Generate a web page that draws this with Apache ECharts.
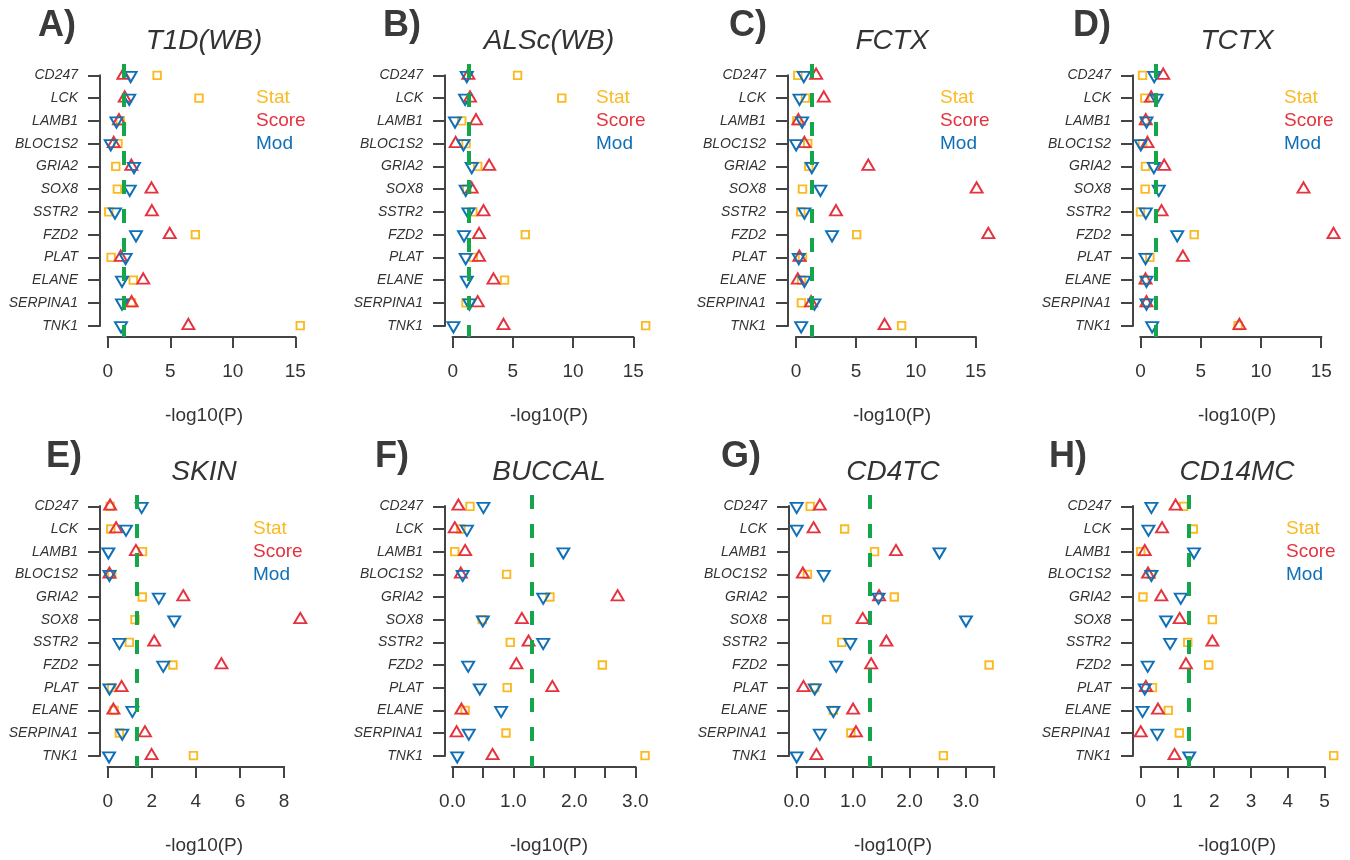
<!DOCTYPE html>
<html>
<head>
<meta charset="utf-8">
<title>-log10(P) by gene</title>
<script src="https://cdn.jsdelivr.net/npm/echarts@6/dist/echarts.min.js"></script>
<style>
html, body {
	margin: 0;
	padding: 0;
	background: #fff;
}
#main {
	width: 1350px;
	height: 860px;
}
</style>
</head>
<body>
<div id="main"></div>
<script type="text/javascript">

    // genes, top to bottom
    var genes = ['CD247', 'LCK', 'LAMB1', 'BLOC1S2', 'GRIA2', 'SOX8', 'SSTR2', 'FZD2', 'PLAT', 'ELANE', 'SERPINA1', 'TNK1'];

    var panelLetters = ['A)', 'B)', 'C)', 'D)', 'E)', 'F)', 'G)', 'H)'];
    var panelNames = ['T1D(WB)', 'ALSc(WB)', 'FCTX', 'TCTX', 'SKIN', 'BUCCAL', 'CD4TC', 'CD14MC'];
    var seriesNames = ['Stat', 'Score', 'Mod'];
    var cutoff = 1.3;   // -log10(0.05)

    // -log10(P) values, one array per panel and test
    var t1dStat   = [3.95, 7.30, 1.00, 0.82, 0.64, 0.77, 0.08, 7.01, 0.27, 2.04, 1.90, 15.40];
    var t1dScore  = [1.25, 1.36, 0.90, 0.48, 1.89, 3.50, 3.53, 4.96, 1.04, 2.84, 1.91, 6.45];
    var t1dMod    = [1.83, 1.72, 0.70, 0.24, 2.10, 1.76, 0.58, 2.26, 1.43, 1.14, 1.14, 1.06];

    var alsStat   = [5.39, 9.06, 0.75, 1.11, 2.08, 1.17, 1.67, 6.03, 1.72, 4.31, 1.11, 16.03];
    var alsScore  = [1.30, 1.44, 1.94, 0.25, 3.03, 1.58, 2.56, 2.19, 2.19, 3.39, 2.08, 4.22];
    var alsMod    = [1.17, 1.03, 0.19, 0.89, 1.58, 1.08, 1.31, 0.94, 1.08, 1.17, 1.39, 0.06];

    var fctxStat  = [0.14, 0.78, 0.06, 0.97, 1.06, 0.53, 0.39, 5.06, 0.53, 0.45, 0.44, 8.81];
    var fctxScore = [1.67, 2.31, 0.19, 0.69, 6.03, 15.08, 3.33, 16.06, 0.28, 0.14, 1.25, 7.39];
    var fctxMod   = [0.64, 0.28, 0.50, 0.00, 1.31, 2.03, 0.69, 3.00, 0.22, 0.69, 1.53, 0.42];

    var tctxStat  = [0.17, 0.36, 0.36, 0.17, 0.42, 0.39, 0.00, 4.46, 0.78, 0.36, 0.44, 8.10];
    var tctxScore = [1.89, 0.89, 0.44, 0.58, 1.97, 13.53, 1.75, 16.02, 3.52, 0.42, 0.50, 8.21];
    var tctxMod   = [1.14, 1.33, 0.50, 0.03, 1.11, 1.52, 0.44, 3.05, 0.42, 0.50, 0.50, 0.97];

    var skinStat  = [0.11, 0.14, 1.58, 0.18, 1.57, 1.24, 0.98, 2.96, 0.18, 0.29, 0.53, 3.89];
    var skinScore = [0.11, 0.38, 1.28, 0.08, 3.43, 8.74, 2.11, 5.16, 0.63, 0.26, 1.69, 1.99];
    var skinMod   = [1.54, 0.83, 0.03, 0.08, 2.32, 3.02, 0.53, 2.52, 0.08, 1.12, 0.66, 0.06];

    var buccStat  = [0.29, 0.14, 0.04, 0.89, 1.60, 0.49, 0.95, 2.46, 0.90, 0.21, 0.88, 3.16];
    var buccScore = [0.10, 0.04, 0.21, 0.14, 2.71, 1.14, 1.25, 1.05, 1.64, 0.15, 0.07, 0.66];
    var buccMod   = [0.51, 0.24, 1.82, 0.17, 1.49, 0.50, 1.49, 0.26, 0.45, 0.80, 0.27, 0.08];

    var cd4Stat   = [0.24, 0.85, 1.38, 0.19, 1.73, 0.53, 0.80, 3.41, 0.32, 0.65, 0.96, 2.60];
    var cd4Score  = [0.41, 0.30, 1.76, 0.11, 1.46, 1.17, 1.59, 1.32, 0.12, 1.00, 1.05, 0.35];
    var cd4Mod    = [0.00, 0.00, 2.53, 0.48, 1.45, 3.00, 0.95, 0.70, 0.32, 0.65, 0.41, 0.00];

    var cd14Stat  = [1.17, 1.43, 0.00, 0.29, 0.06, 1.95, 1.28, 1.85, 0.32, 0.75, 1.05, 5.25];
    var cd14Score = [0.95, 0.58, 0.11, 0.20, 0.56, 1.06, 1.95, 1.23, 0.14, 0.47, 0.00, 0.92];
    var cd14Mod   = [0.29, 0.21, 1.45, 0.29, 1.09, 0.69, 0.80, 0.19, 0.11, 0.05, 0.45, 1.32];

    // x tick values per panel
    var ticksWide  = [0, 5, 10, 15];
    var ticksSkin  = [0, 2, 4, 6, 8];
    var ticksBucc  = [0, 0.5, 1, 1.5, 2, 2.5, 3];
    var ticksCd4   = [0, 0.5, 1, 1.5, 2, 2.5, 3, 3.5];
    var labelsHalf = [0, 1, 2, 3];
    var ticksCd14  = [0, 1, 2, 3, 4, 5];

    var panelData = [
        [t1dStat, t1dScore, t1dMod],
        [alsStat, alsScore, alsMod],
        [fctxStat, fctxScore, fctxMod],
        [tctxStat, tctxScore, tctxMod],
        [skinStat, skinScore, skinMod],
        [buccStat, buccScore, buccMod],
        [cd4Stat, cd4Score, cd4Mod],
        [cd14Stat, cd14Score, cd14Mod]
    ];
    var panelTicks = [ticksWide, ticksWide, ticksWide, ticksWide, ticksSkin, ticksBucc, ticksCd4, ticksCd14];
    var panelLabels = [ticksWide, ticksWide, ticksWide, ticksWide, ticksSkin, labelsHalf, labelsHalf, ticksCd14];

    // layout (pixels) and axis ranges like R's 4% padding
    var layout = [
        {left: 100,  top: 64,  h: 273, xMin: -0.62, xMax: 16.02, dec: 0, letterX: 57,   legendX: 256},
        {left: 445,  top: 64,  h: 273, xMin: -0.64, xMax: 16.64, dec: 0, letterX: 402,  legendX: 596},
        {left: 788,  top: 64,  h: 273, xMin: -0.68, xMax: 16.70, dec: 0, letterX: 748,  legendX: 940},
        {left: 1133, top: 64,  h: 273, xMin: -0.62, xMax: 16.64, dec: 0, letterX: 1092, legendX: 1284},
        {left: 100,  top: 495, h: 272, xMin: -0.35, xMax: 9.09,  dec: 0, letterX: 64,   legendX: 253},
        {left: 445,  top: 495, h: 272, xMin: -0.12, xMax: 3.29,  dec: 1, letterX: 392,  legendX: null},
        {left: 789,  top: 495, h: 272, xMin: -0.136, xMax: 3.55, dec: 1, letterX: 741,  legendX: null},
        {left: 1133, top: 495, h: 272, xMin: -0.21, xMax: 5.45,  dec: 0, letterX: 1068, legendX: 1286}
    ];
    var gridWidth = 208;

    var font = '"Liberation Sans", Arial, Helvetica, sans-serif';
    var textColor = '#333';
    var axisColor = '#444';
    var colors = ['#FBBA22', '#E5323F', '#0F70B7'];
    var green = '#13A64B';
    var downTriangle = 'path://M0,0L2,0L1,1.732Z';

    var myChart = echarts.init(document.getElementById('main'), null, {renderer: 'canvas'});

    var grids = [], xAxes = [], yAxes = [], series = [];

    layout.forEach(function (l, i) {
        grids.push({left: l.left, top: l.top, width: gridWidth, height: l.h});

        xAxes.push({
            gridIndex: i,
            type: 'value',
            min: l.xMin,
            max: l.xMax,
            axisLine: {show: false, onZero: false},
            splitLine: {show: false},
            axisTick: {
                show: true,
                customValues: panelTicks[i],
                length: 11,
                lineStyle: {color: axisColor, width: 2}
            },
            axisLabel: {
                customValues: panelLabels[i],
                formatter: function (v) { return l.dec ? v.toFixed(1) : String(v); },
                fontSize: 19,
                fontFamily: font,
                color: textColor,
                margin: 25
            },
            name: '-log10(P)',
            nameLocation: 'middle',
            nameGap: 69,
            nameTextStyle: {fontSize: 19, fontFamily: font, color: textColor}
        });

        yAxes.push({
            gridIndex: i,
            type: 'category',
            data: genes,
            inverse: true,
            axisLine: {show: false, onZero: false},
            axisTick: {show: true, alignWithLabel: true, length: 12, lineStyle: {color: axisColor, width: 2}},
            axisLabel: {
                interval: 0,
                fontStyle: 'italic',
                fontSize: 14,
                fontFamily: font,
                color: textColor,
                margin: 22
            }
        });

        // green dashed cut-off line
        series.push({
            type: 'scatter',
            xAxisIndex: i,
            yAxisIndex: i,
            data: [],
            z: 1,
            markLine: {
                silent: true,
                symbol: ['none', 'none'],
                label: {show: false},
                lineStyle: {color: green, width: 4, type: [14, 15], opacity: 1},
                data: [{xAxis: cutoff}]
            }
        });

        panelData[i].forEach(function (vals, k) {
            series.push({
                name: seriesNames[k],
                type: 'scatter',
                xAxisIndex: i,
                yAxisIndex: i,
                silent: true,
                z: 2 + k,
                symbol: k === 0 ? 'rect' : (k === 1 ? 'triangle' : downTriangle),
                symbolSize: k === 0 ? 7.5 : [12, 10.2],
                symbolOffset: k === 0 ? [0, 0] : (k === 1 ? [0, -1.7] : [0, 1.7]),
                itemStyle: {color: 'rgba(0,0,0,0)', borderColor: colors[k], borderWidth: 1.9, opacity: 1},
                data: vals.map(function (v, g) { return [v, genes[g]]; })
            });
        });
    });

    var option = {
        animation: false,
        backgroundColor: '#fff',
        grid: grids,
        xAxis: xAxes,
        yAxis: yAxes,
        series: series
    };

    myChart.setOption(option);

    // R-style detached axis lines, titles and text legends
    var elements = [];
    layout.forEach(function (l, i) {
        var ticks = panelTicks[i];
        var top = myChart.convertToPixel({gridIndex: i}, [l.xMin, 0]);
        var bot = myChart.convertToPixel({gridIndex: i}, [l.xMin, genes.length - 1]);
        elements.push({
            type: 'line', silent: true,
            shape: {x1: top[0], y1: top[1] - 1, x2: bot[0], y2: bot[1] + 1},
            style: {stroke: axisColor, lineWidth: 2}
        });
        var a = myChart.convertToPixel({gridIndex: i}, [ticks[0], 0]);
        var b = myChart.convertToPixel({gridIndex: i}, [ticks[ticks.length - 1], 0]);
        var yb = l.top + l.h;
        elements.push({
            type: 'line', silent: true,
            shape: {x1: a[0] - 1, y1: yb, x2: b[0] + 1, y2: yb},
            style: {stroke: axisColor, lineWidth: 2}
        });

        var titleY = l.top - 23;
        elements.push({
            type: 'text', silent: true,
            x: l.left + gridWidth / 2, y: titleY,
            style: {text: panelNames[i], font: 'italic 28px ' + font, fill: textColor,
                    align: 'center', verticalAlign: 'middle', textAlign: 'center', textVerticalAlign: 'middle'}
        });
        elements.push({
            type: 'text', silent: true,
            x: l.letterX, y: l.top - 38,
            style: {text: panelLetters[i], font: 'bold 36px ' + font, fill: '#3a3a3a',
                    align: 'center', verticalAlign: 'middle', textAlign: 'center', textVerticalAlign: 'middle'}
        });

        if (l.legendX !== null) {
            seriesNames.forEach(function (name, k) {
                var p = myChart.convertToPixel({gridIndex: i}, [0, k + 1]);
                elements.push({
                    type: 'text', silent: true,
                    x: l.legendX, y: p[1],
                    style: {text: name, font: '19px ' + font, fill: colors[k],
                            align: 'left', verticalAlign: 'middle', textAlign: 'left', textVerticalAlign: 'middle'}
                });
            });
        }
    });

    myChart.setOption({graphic: {elements: elements}});
</script>
</body>
</html>
